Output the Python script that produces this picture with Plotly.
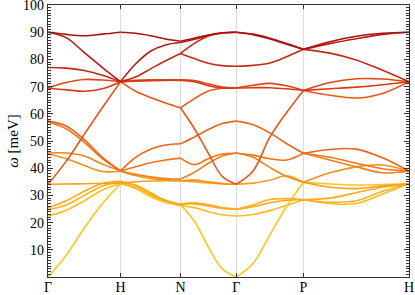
import numpy as np
import plotly.graph_objects as go

# high-symmetry path (positions along path) and labels
k_nodes = [0, 72.5, 132.5, 188.2, 255.5, 361]
k_labels = ["Γ", "H", "N", "Γ", "P", "H"]

# colour index (band id) for each curve and values (meV) along each segment
GH_ci = [0, 1, 2, 3, 4, 5, 6, 7, 8, 9, 10, 11, 12, 13, 14]
GH_vals = [
    [0.0, 8.0, 18.0, 27.0, 34.3],
    [22.4, 24.5, 28.0, 32.0, 34.3],
    [24.8, 26.5, 30.0, 33.5, 34.8],
    [25.4, 28.0, 31.5, 34.5, 35.2],
    [34.1, 34.2, 34.3, 34.4, 34.5],
    [45.2, 43.5, 41.0, 38.8, 38.9],
    [45.6, 45.6, 44.5, 41.5, 39.0],
    [57.0, 54.5, 49.5, 43.5, 39.0],
    [57.3, 55.5, 50.5, 44.0, 39.0],
    [34.1, 42.5, 52.5, 62.3, 71.8],
    [69.5, 71.5, 72.6, 72.4, 71.8],
    [69.5, 68.8, 68.3, 69.2, 71.8],
    [77.0, 76.8, 75.9, 74.2, 71.8],
    [90.0, 88.0, 82.5, 77.0, 71.8],
    [90.1, 89.2, 88.7, 89.3, 90.0],
]

HN_ci = [0, 1, 2, 3, 4, 5, 6, 7, 8, 9, 10, 11, 12, 13, 14]
HN_vals = [
    [34.3, 32.5, 29.5, 27.5, 26.5],
    [34.3, 32.8, 30.0, 27.6, 26.2],
    [34.8, 33.5, 30.5, 28.0, 26.8],
    [35.2, 33.8, 31.0, 28.2, 26.6],
    [34.5, 35.0, 35.3, 35.4, 35.4],
    [38.9, 37.3, 36.2, 35.7, 35.4],
    [39.0, 37.8, 36.8, 36.2, 36.0],
    [39.0, 40.5, 42.0, 43.0, 43.7],
    [39.0, 44.0, 47.0, 48.5, 49.0],
    [71.8, 68.3, 66.0, 64.0, 62.2],
    [71.8, 72.3, 72.5, 72.5, 72.5],
    [71.8, 72.0, 72.2, 72.3, 72.3],
    [71.8, 73.5, 76.5, 79.5, 82.2],
    [71.8, 78.3, 83.0, 85.3, 86.2],
    [90.0, 89.6, 88.7, 87.5, 86.7],
]

NG_ci = [0, 1, 2, 3, 4, 5, 6, 7, 8, 9, 9, 10, 11, 12, 12, 13, 14]
NG_vals = [
    [26.5, 20.5, 11.0, 3.0, 0.0],
    [26.2, 25.5, 24.0, 22.9, 22.4],
    [26.8, 27.3, 26.6, 25.5, 25.0],
    [26.6, 26.9, 26.1, 25.2, 24.8],
    [35.4, 35.0, 34.6, 34.2, 34.1],
    [35.4, 35.6, 35.0, 34.4, 34.1],
    [36.0, 38.5, 41.8, 44.5, 45.6],
    [43.7, 41.3, 43.5, 45.2, 45.5],
    [49.0, 51.5, 54.2, 56.4, 57.3],
    [62.2, 65.6, 68.4, 69.4, 69.5],
    [62.2, 54.5, 45.5, 37.0, 34.1],
    [72.5, 72.2, 71.0, 69.8, 69.5],
    [72.3, 71.8, 70.3, 69.5, 69.5],
    [82.2, 80.3, 78.6, 77.7, 77.5],
    [82.2, 85.9, 88.6, 89.7, 90.0],
    [86.2, 87.4, 88.8, 89.7, 90.0],
    [86.7, 87.8, 89.0, 89.8, 90.0],
]

GP_ci = [0, 1, 2, 3, 4, 6, 7, 8, 9, 10, 11, 12, 13, 14]
GP_vals = [
    [0.0, 5.0, 15.5, 26.0, 34.8],
    [22.4, 23.0, 24.4, 26.3, 28.4],
    [25.0, 26.5, 28.5, 28.8, 28.4],
    [24.8, 25.8, 27.3, 28.2, 28.4],
    [34.1, 34.5, 35.6, 37.2, 34.8],
    [45.6, 44.0, 40.3, 37.0, 34.8],
    [45.5, 44.8, 43.5, 43.0, 45.5],
    [57.3, 56.0, 53.0, 49.0, 45.5],
    [34.1, 39.0, 51.4, 60.5, 68.6],
    [69.5, 70.5, 71.2, 70.3, 68.6],
    [69.5, 69.6, 69.6, 69.2, 68.6],
    [77.5, 77.8, 78.7, 81.0, 83.7],
    [90.0, 89.1, 87.5, 85.6, 83.7],
    [90.0, 89.3, 87.8, 85.8, 83.7],
]

PH_ci = [0, 1, 2, 3, 4, 5, 6, 7, 8, 9, 10, 11, 12, 13, 14]
PH_vals = [
    [34.8, 34.2, 33.8, 34.0, 34.3],
    [28.4, 27.0, 27.0, 30.5, 34.3],
    [28.4, 27.5, 28.0, 31.5, 34.3],
    [28.4, 29.0, 31.0, 33.0, 34.3],
    [34.8, 33.0, 32.5, 33.5, 34.3],
    [34.8, 38.3, 40.5, 41.2, 38.9],
    [45.5, 43.0, 40.5, 38.3, 38.9],
    [45.5, 44.0, 41.8, 39.8, 38.9],
    [45.5, 46.9, 47.0, 43.8, 38.9],
    [68.6, 66.8, 65.8, 67.5, 71.8],
    [68.6, 71.5, 72.9, 72.8, 71.8],
    [68.6, 69.2, 69.8, 70.7, 71.8],
    [83.7, 82.3, 79.8, 76.0, 71.8],
    [83.7, 85.8, 87.6, 89.2, 90.0],
    [83.7, 86.5, 88.5, 89.6, 90.0],
]

band_colors = [
    "#FFC61E", "#FFBC1E", "#FFB21C", "#FFA81A", "#FF9E18",
    "#FA8E18", "#F58018", "#F27218", "#EF6418", "#EB5616",
    "#E24614", "#D83814", "#C82814", "#B81A12", "#A81212",
]

segments = [(GH_ci, GH_vals), (HN_ci, HN_vals), (NG_ci, NG_vals),
            (GP_ci, GP_vals), (PH_ci, PH_vals)]

fig = go.Figure()
for s, (cis, vals) in enumerate(segments):
    for ci, v in zip(cis, vals):
        xs = np.linspace(k_nodes[s], k_nodes[s + 1], len(v))
        fig.add_trace(go.Scatter(
            x=xs, y=v, mode="lines",
            line=dict(color=band_colors[ci], width=1.6, shape="spline", smoothing=1.0),
            hoverinfo="skip", showlegend=False))

axis_line = dict(showline=True, linecolor="#333333", linewidth=1.2, zeroline=False,
                 automargin=False)

fig.update_layout(
    template="none",
    width=415, height=295,
    margin=dict(l=48, r=6, t=5, b=18),
    plot_bgcolor="white", paper_bgcolor="white",
    showlegend=False,
    font=dict(family="Liberation Serif", color="black", size=14),
    xaxis=dict(range=[-0.05, 361.05], tickmode="array", tickvals=k_nodes, ticktext=k_labels,
               showgrid=True, gridcolor="#dcdcdc", gridwidth=1,
               ticks="inside", ticklen=4, tickwidth=1, tickcolor="#333333", mirror="ticks",
               tickfont=dict(size=14), ticklabeloverflow="allow", ticklabelstandoff=-3,
               **axis_line),
    yaxis=dict(range=[0, 100], tickmode="linear", tick0=0, dtick=10,
               labelalias={"0": " "}, showgrid=False,
               ticks="inside", ticklen=5, tickwidth=1, tickcolor="#333333", mirror="ticks",
               minor=dict(dtick=1, tick0=0, ticklen=3, tickwidth=1, ticks="inside",
                          tickcolor="#333333", showgrid=False),
               tickfont=dict(size=14), ticklabeloverflow="allow",
               title=dict(text="<i>ω</i> [meV]", font=dict(size=15), standoff=0),
               **axis_line),
)

fig.write_html("out.html", config={"displayModeBar": False},
               post_script="document.body.style.margin='0px';document.body.style.overflow='hidden';")
